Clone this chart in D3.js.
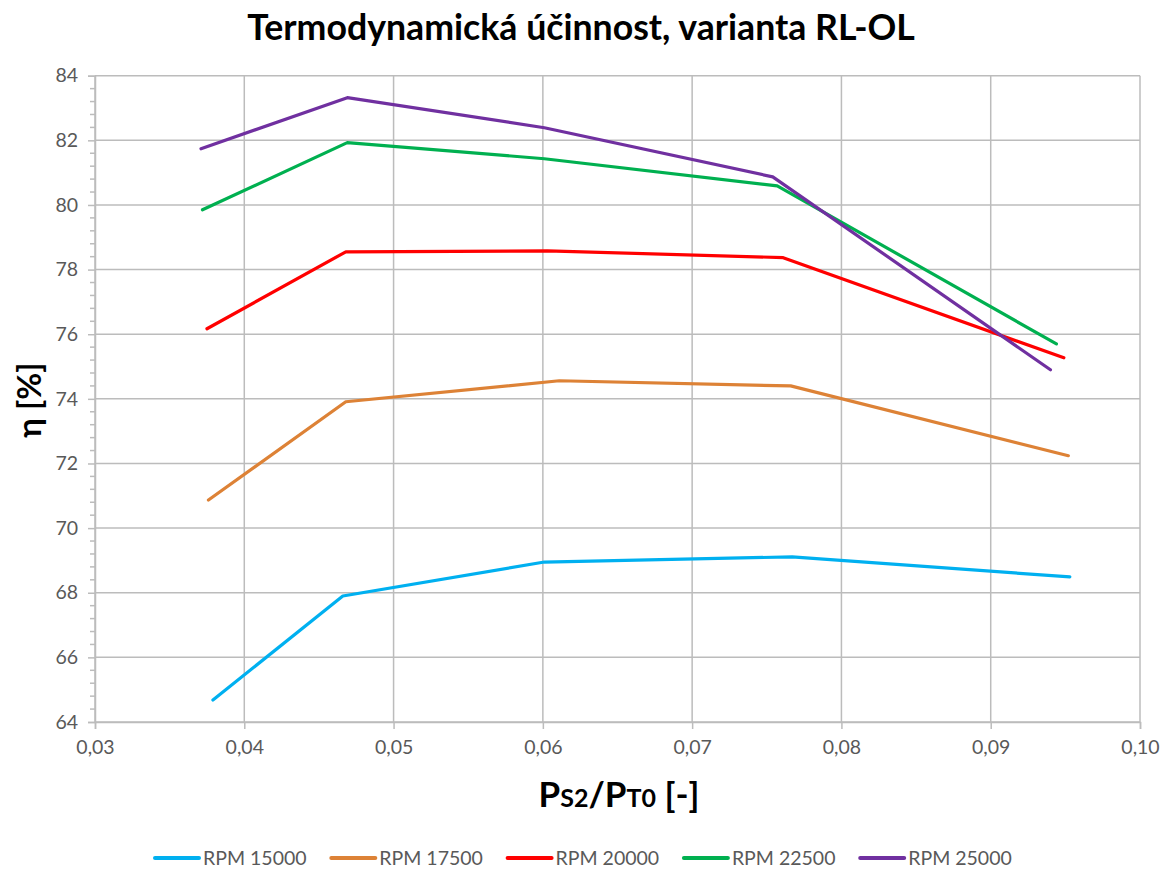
<!DOCTYPE html>
<html>
<head>
<meta charset="utf-8">
<script src="https://cdn.jsdelivr.net/npm/d3@7"></script>
<style>
  html, body { margin: 0; padding: 0; background: #fff; }
  svg { display: block; }
</style>
</head>
<body>
<svg id="chart" width="1165" height="870"></svg>
<script>
// Pressure ratio p_s2/p_T0 and efficiency (%) for each rotor speed
const seriesNames = ["RPM 15000", "RPM 17500", "RPM 20000", "RPM 22500", "RPM 25000"];
const seriesColors = ["#00b0f0", "#dd8236", "#ff0000", "#00b050", "#7030a0"];

const x15000 = [0.0379, 0.0466, 0.0601, 0.0767, 0.0953];
const y15000 = [64.68, 67.90, 68.95, 69.11, 68.49];

const x17500 = [0.0376, 0.0468, 0.0611, 0.0766, 0.0952];
const y17500 = [70.87, 73.91, 74.56, 74.40, 72.24];

const x20000 = [0.0375, 0.0468, 0.0603, 0.0761, 0.0949];
const y20000 = [76.17, 78.55, 78.58, 78.37, 75.27];

const x22500 = [0.0372, 0.0469, 0.0601, 0.0757, 0.0944];
const y22500 = [79.85, 81.93, 81.43, 80.59, 75.70];

const x25000 = [0.0371, 0.0469, 0.0601, 0.0754, 0.0940];
const y25000 = [81.74, 83.32, 82.39, 80.87, 74.90];

const xTicks = [0.03, 0.04, 0.05, 0.06, 0.07, 0.08, 0.09, 0.10];
const xTickLabels = ["0,03", "0,04", "0,05", "0,06", "0,07", "0,08", "0,09", "0,10"];
const yTicks = [64, 66, 68, 70, 72, 74, 76, 78, 80, 82, 84];
const yTickLabels = ["64", "66", "68", "70", "72", "74", "76", "78", "80", "82", "84"];

const titleText = "Termodynamická účinnost, varianta RL-OL";

const seriesX = [x15000, x17500, x20000, x22500, x25000];
const seriesY = [y15000, y17500, y20000, y22500, y25000];
const series = seriesNames.map((name, i) => ({
  name,
  color: seriesColors[i],
  points: seriesX[i].map((xv, j) => ({ x: xv, y: seriesY[i][j] }))
}));

const svg = d3.select("#chart");
const FONT = "Lato, 'Open Sans', sans-serif";

const plot = { left: 95, right: 1140, top: 75.7, bottom: 722 };

const x = d3.scaleLinear().domain([0.03, 0.10]).range([plot.left, plot.right]);
const y = d3.scaleLinear().domain([64, 84]).range([plot.bottom, plot.top]);

// Shrink or grow a text element's font so it spans the given width
function fitWidth(sel, target) {
  const node = sel.node();
  const fs = parseFloat(sel.attr("font-size"));
  const w = node.getComputedTextLength();
  if (w > 0) sel.attr("font-size", fs * target / w);
}

// Grid
const grid = svg.append("g").attr("stroke", "#bcbcbc").attr("stroke-width", 1.5);
grid.selectAll(".hg").data(yTicks).join("line")
  .attr("x1", plot.left).attr("x2", plot.right)
  .attr("y1", d => y(d)).attr("y2", d => y(d));
grid.selectAll(".vg").data(xTicks).join("line")
  .attr("y1", plot.top).attr("y2", plot.bottom)
  .attr("x1", d => x(d)).attr("x2", d => x(d));

// Y axis with minor ticks
const minorY = d3.range(64, 84.001, 0.4).filter(v => Math.abs(v / 2 - Math.round(v / 2)) > 1e-6);
const yAxisG = svg.append("g").attr("transform", `translate(${plot.left},0)`);
yAxisG.call(d3.axisLeft(y).tickValues(yTicks).tickSize(7).tickFormat((d, i) => yTickLabels[i]).tickPadding(10));
yAxisG.selectAll(".minor").data(minorY).join("line")
  .attr("class", "minor")
  .attr("x1", -5).attr("x2", 0)
  .attr("y1", d => y(d)).attr("y2", d => y(d))
  .attr("stroke", "#bcbcbc").attr("stroke-width", 1.5);

// X axis
const xAxisG = svg.append("g").attr("transform", `translate(0,${plot.bottom})`);
xAxisG.call(d3.axisBottom(x).tickValues(xTicks).tickSize(7).tickFormat((d, i) => xTickLabels[i]).tickPadding(11));

[yAxisG, xAxisG].forEach(g => {
  g.select(".domain").attr("stroke", "#bcbcbc").attr("stroke-width", 1.5);
  g.selectAll(".tick line").attr("stroke", "#bcbcbc").attr("stroke-width", 1.5);
  g.selectAll(".tick text").attr("fill", "#595959").attr("font-family", FONT).attr("font-size", 19.5);
});

// Series lines
const line = d3.line().x(d => x(d.x)).y(d => y(d.y));
svg.append("g").selectAll("path").data(series).join("path")
  .attr("d", d => line(d.points))
  .attr("fill", "none")
  .attr("stroke", d => d.color)
  .attr("stroke-width", 3.2)
  .attr("stroke-linejoin", "round")
  .attr("stroke-linecap", "round");

// Title
const title = svg.append("text")
  .attr("x", 581).attr("y", 40)
  .attr("text-anchor", "middle")
  .attr("font-family", FONT).attr("font-weight", "bold")
  .attr("font-size", 30).attr("fill", "#000")
  .text(titleText);
fitWidth(title, 668);

// Y axis title
svg.append("text")
  .attr("transform", "translate(41,400) rotate(-90)")
  .attr("text-anchor", "middle")
  .attr("font-family", FONT).attr("font-weight", "bold")
  .attr("font-size", 33).attr("fill", "#000")
  .text("η [%]");

// X axis title with small-cap subscripts
const xTitle = svg.append("text")
  .attr("x", 619).attr("y", 807)
  .attr("text-anchor", "middle")
  .attr("font-family", FONT).attr("font-weight", "bold")
  .attr("font-size", 35).attr("fill", "#000");
xTitle.append("tspan").text("P");
xTitle.append("tspan").attr("font-size", 25).text("S2");
xTitle.append("tspan").text("/P");
xTitle.append("tspan").attr("font-size", 25).text("T0");
xTitle.append("tspan").text(" [-]");

// Legend
const legend = svg.append("g").attr("transform", "translate(155,858)");
const item = legend.selectAll("g").data(series).join("g")
  .attr("transform", (d, i) => `translate(${i * 176.3},0)`);
item.append("line")
  .attr("x1", 0).attr("x2", 44).attr("y1", 0).attr("y2", 0)
  .attr("stroke", d => d.color).attr("stroke-width", 4).attr("stroke-linecap", "round");
item.append("text")
  .attr("x", 48).attr("y", 0).attr("dy", "0.35em")
  .attr("font-family", FONT).attr("font-size", 19.5).attr("fill", "#595959")
  .text(d => d.name);
</script>
</body>
</html>
